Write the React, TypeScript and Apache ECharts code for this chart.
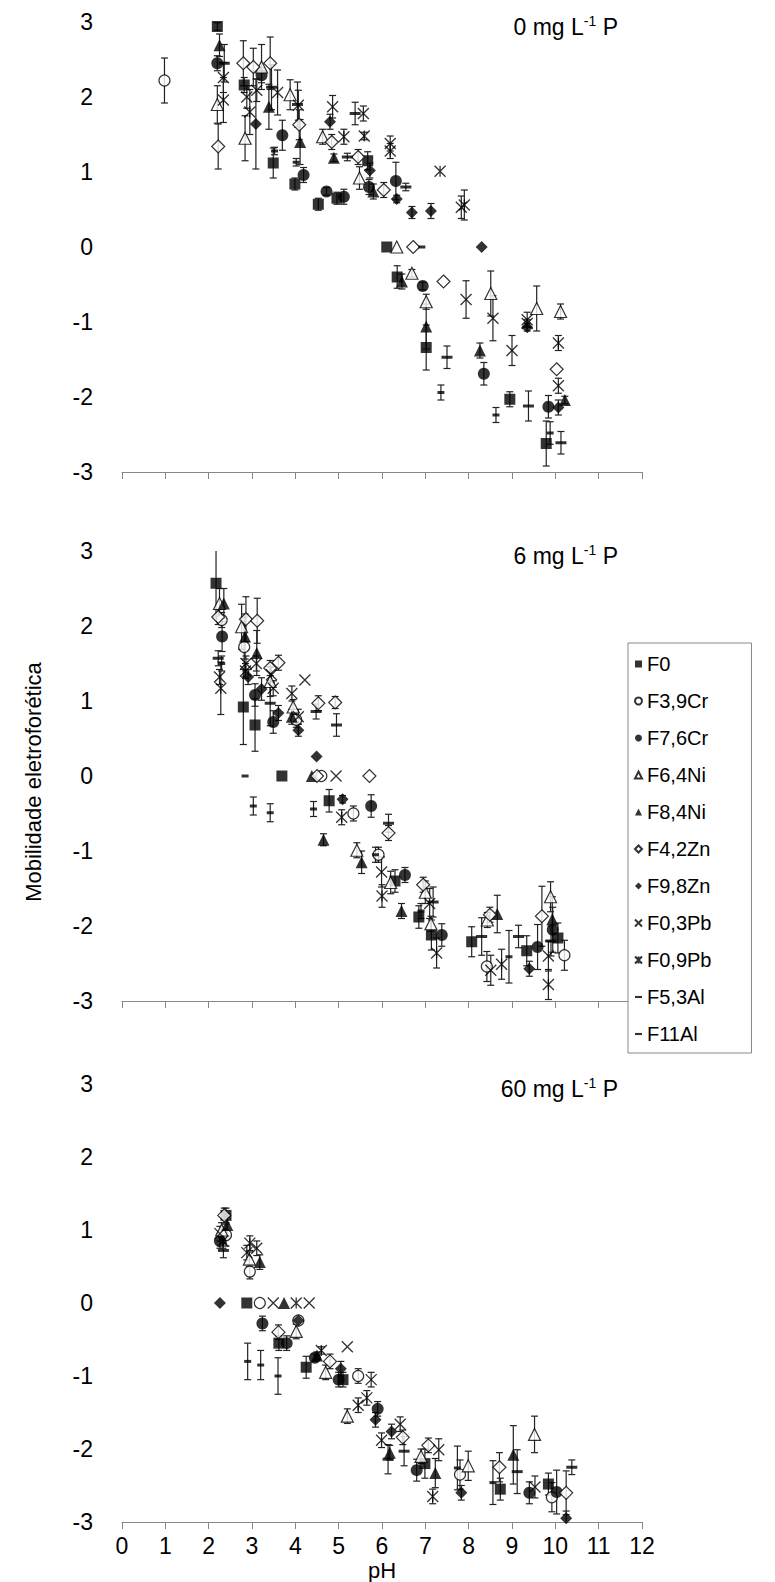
import React, { useEffect, useRef } from "react";
import * as echarts from "echarts";

// ---- series names (legend order) ----
const NAMES = ["F0", "F3,9Cr", "F7,6Cr", "F6,4Ni", "F8,4Ni", "F4,2Zn", "F9,8Zn", "F0,3Pb", "F0,9Pb", "F5,3Al", "F11Al"];
const TITLES = ["0", "6", "60"];
const X_TICKS = [0, 12, 1];
const Y_TICKS = [-3, 3, 1];

// each point: [pH, mobility, error]
// ---- panel 1: 0 mg L-1 P ----
const p1_F0 = [[2.2, 2.94, 0.05], [2.82, 2.16, 0.1], [3.49, 1.12, 0.2], [3.99, 0.84, 0.08], [4.53, 0.57, 0.08], [4.96, 0.65, 0.08], [5.67, 1.15, 0.12], [6.11, 0, 0], [6.35, -0.4, 0.15], [7.02, -1.34, 0.3], [8.95, -2.03, 0.1], [9.79, -2.62, 0.3]];
const p1_F39Cr = [[0.98, 2.22, 0.3]];
const p1_F76Cr = [[2.2, 2.45, 0.1], [3.22, 2.29, 0.1], [3.7, 1.49, 0.2], [4.19, 0.96, 0.1], [4.72, 0.74, 0.05], [5.12, 0.67, 0.1], [5.7, 0.8, 0.1], [6.32, 0.88, 0.25], [6.94, -0.52, 0.05], [8.35, -1.69, 0.15], [9.84, -2.13, 0.15]];
const p1_F64Ni = [[2.2, 1.9, 0.25], [2.84, 1.45, 0.3], [3.22, 2.4, 0.3], [3.88, 2.03, 0.2], [4.63, 1.47, 0.1], [5.48, 0.92, 0.15], [6.34, 0, 0], [6.69, -0.35, 0.05], [7.02, -0.73, 0.1], [8.51, -0.62, 0.3], [9.57, -0.82, 0.3], [10.12, -0.86, 0.1]];
const p1_F84Ni = [[2.25, 2.69, 0.15], [3.39, 1.87, 0.3], [4.11, 1.4, 0.3], [4.89, 1.19, 0.05], [5.8, 0.74, 0.1], [6.46, -0.46, 0.1], [7.02, -1.06, 0.3], [8.26, -1.38, 0.1], [10.22, -2.04, 0.05]];
const p1_F42Zn = [[2.22, 1.34, 0.3], [2.8, 2.45, 0.3], [3.03, 2.4, 0.25], [3.42, 2.45, 0.35], [4.09, 1.63, 0.2], [4.84, 1.4, 0.1], [5.45, 1.2, 0.1], [6.04, 0.76, 0.1], [6.72, 0, 0], [7.42, -0.46, 0], [10.03, -1.63, 0]];
const p1_F98Zn = [[3.09, 1.64, 0.6], [4.8, 1.67, 0.1], [5.72, 1.02, 0.1], [6.34, 0.64, 0.05], [6.69, 0.46, 0.08], [7.13, 0.48, 0.1], [8.3, 0, 0], [9.35, -1.07, 0.05], [10.07, -2.14, 0.1]];
const p1_F03Pb = [[2.34, 2.26, 0.2], [2.88, 2.0, 0.15], [3.11, 2.09, 0.15], [4.07, 1.89, 0.2], [4.86, 1.87, 0.15], [5.57, 1.78, 0.1], [6.19, 1.38, 0.1], [7.83, 0.53, 0.15], [7.94, -0.7, 0.25], [8.56, -0.95, 0.3], [9.0, -1.38, 0.2], [9.35, -0.97, 0.1], [10.07, -1.85, 0.1]];
const p1_F09Pb = [[2.34, 1.96, 0.3], [2.95, 1.8, 0.3], [3.59, 2.06, 0.3], [5.12, 1.47, 0.1], [5.59, 1.48, 0.05], [6.19, 1.28, 0.1], [7.34, 1.01, 0], [7.9, 0.56, 0.2], [9.35, -1.02, 0.05], [10.07, -1.28, 0.1]];
const p1_F53Al = [[3.52, 1.28, 0.05], [4.02, 1.13, 0.05], [6.92, 0, 0], [7.36, -1.94, 0.1], [8.63, -2.24, 0.1], [9.88, -2.48, 0.15]];
const p1_F11Al = [[2.36, 2.45, 0.25], [3.45, 2.13, 0.3], [4.05, 1.9, 0.3], [5.2, 1.2, 0.05], [5.38, 1.78, 0.15], [6.55, 0.8, 0.05], [7.5, -1.47, 0.15], [9.38, -2.12, 0.2], [10.13, -2.61, 0.15]];

// ---- panel 2: 6 mg L-1 P ----
const p2_F0 = [[2.17, 2.57, 0.45], [2.8, 0.92, 0.5], [3.07, 0.68, 0.35], [3.69, 0, 0], [4.78, -0.33, 0.15], [6.3, -1.4, 0.15], [6.85, -1.88, 0.15], [7.14, -2.12, 0.2], [8.07, -2.21, 0.2], [9.34, -2.33, 0.2], [10.06, -2.16, 0.2]];
const p2_F39Cr = [[2.3, 2.08, 0.1], [2.82, 1.72, 0.4], [4.02, 0.75, 0.1], [4.6, 0, 0], [5.34, -0.5, 0.1], [5.92, -1.05, 0.1], [8.42, -2.54, 0.2], [10.21, -2.39, 0.2]];
const p2_F76Cr = [[2.31, 1.86, 0.2], [3.07, 1.08, 0.15], [3.49, 0.72, 0.15], [5.75, -0.4, 0.15], [6.53, -1.32, 0.1], [7.38, -2.12, 0.15], [9.59, -2.28, 0.3], [9.94, -2.05, 0.3]];
const p2_F64Ni = [[2.25, 2.3, 0.2], [2.76, 1.99, 0.3], [3.42, 1.26, 0.2], [3.95, 0.92, 0.1], [5.42, -0.99, 0.1], [6.2, -1.42, 0.15], [7.0, -1.55, 0.15], [7.13, -1.97, 0.1], [8.43, -1.92, 0.1], [9.89, -1.61, 0.2]];
const p2_F84Ni = [[2.35, 2.3, 0.2], [2.84, 1.86, 0.3], [3.11, 1.64, 0.3], [3.92, 0.79, 0.1], [4.38, 0, 0], [4.65, -0.85, 0.08], [5.53, -1.15, 0.15], [6.45, -1.8, 0.1], [8.66, -1.84, 0.25], [9.93, -1.91, 0.3]];
const p2_F42Zn = [[2.22, 2.12, 0.1], [2.86, 2.09, 0.3], [3.12, 2.07, 0.3], [3.61, 1.51, 0.1], [3.42, 1.44, 0.1], [4.53, 0.97, 0.1], [4.92, 0.98, 0.08], [4.5, 0, 0], [5.71, 0, 0], [6.15, -0.76, 0.1], [6.95, -1.45, 0.1], [8.49, -1.85, 0.1], [9.69, -1.87, 0.4]];
const p2_F98Zn = [[2.91, 1.32, 0.1], [3.22, 1.16, 0.15], [3.61, 0.84, 0.1], [4.07, 0.61, 0.08], [4.49, 0.26, 0], [5.09, -0.31, 0.05], [9.4, -2.57, 0.1]];
const p2_F03Pb = [[2.25, 1.32, 0.1], [2.86, 1.5, 0.1], [3.1, 1.5, 0.1], [3.45, 1.35, 0.1], [3.49, 1.17, 0.1], [3.92, 1.1, 0.1], [4.07, 0.79, 0.1], [4.22, 1.28, 0], [4.94, 0, 0], [5.99, -1.28, 0.2], [7.1, -1.7, 0.2], [8.51, -2.59, 0.2], [9.84, -2.4, 0.2]];
const p2_F09Pb = [[2.28, 1.17, 0.35], [2.85, 1.4, 0.1], [5.07, -0.55, 0.1], [6.0, -1.6, 0.15], [7.26, -2.36, 0.2], [8.76, -2.51, 0.2], [9.84, -2.78, 0.2]];
const p2_F53Al = [[2.3, 1.5, 0.1], [2.84, 0, 0], [3.03, -0.4, 0.12], [3.42, -0.49, 0.12], [4.42, -0.44, 0.1], [5.85, -1.05, 0.1], [6.9, -1.8, 0.1], [8.93, -2.41, 0.35]];
const p2_F11Al = [[2.22, 1.57, 0.1], [3.42, 0.97, 0.3], [4.48, 0.86, 0.1], [4.95, 0.68, 0.15], [6.15, -0.63, 0.12], [7.18, -1.68, 0.2], [8.3, -2.14, 0.25], [9.15, -2.14, 0.15], [9.9, -2.2, 0.2]];

// ---- panel 3: 60 mg L-1 P ----
const p3_F0 = [[2.4, 1.2, 0.1], [2.88, 0, 0], [3.62, -0.55, 0.1], [4.25, -0.88, 0.15], [5.1, -1.05, 0.1], [6.99, -2.2, 0.2], [8.73, -2.55, 0.15], [9.84, -2.48, 0.15]];
const p3_F39Cr = [[2.4, 0.93, 0.15], [2.95, 0.43, 0.1], [3.18, 0, 0], [4.07, -0.24, 0], [5.45, -1.0, 0.1], [7.8, -2.35, 0.2], [9.92, -2.66, 0.2]];
const p3_F76Cr = [[2.26, 0.85, 0.1], [3.24, -0.28, 0.1], [3.8, -0.55, 0.1], [4.45, -0.75, 0.05], [5.0, -1.05, 0.1], [5.9, -1.45, 0.1], [6.8, -2.29, 0.15], [9.4, -2.6, 0.15], [10.03, -2.59, 0.3]];
const p3_F64Ni = [[2.3, 1.0, 0.1], [2.94, 0.6, 0.1], [4.02, -0.39, 0.1], [4.7, -0.95, 0.1], [5.2, -1.55, 0.1], [6.9, -2.1, 0.1], [7.99, -2.23, 0.2], [9.52, -1.8, 0.25]];
const p3_F84Ni = [[2.43, 1.07, 0.15], [3.18, 0.56, 0.1], [3.74, 0, 0], [4.5, -0.72, 0.05], [6.18, -2.05, 0.1], [7.23, -2.33, 0.2], [9.03, -2.08, 0.4]];
const p3_F42Zn = [[2.36, 1.2, 0.1], [3.61, -0.4, 0.1], [4.8, -0.8, 0.1], [6.48, -1.84, 0.1], [7.07, -1.95, 0.1], [8.71, -2.25, 0.2], [10.25, -2.6, 0.3]];
const p3_F98Zn = [[2.26, 0, 0], [4.07, -0.24, 0], [5.05, -0.9, 0.1], [5.85, -1.6, 0.1], [6.22, -1.76, 0.1], [7.83, -2.6, 0.1], [10.25, -2.95, 0.1]];
const p3_F03Pb = [[2.26, 0.95, 0.1], [2.88, 0.69, 0.1], [3.11, 0.75, 0.1], [3.49, 0, 0], [4.32, 0, 0], [5.2, -0.6, 0], [5.75, -1.05, 0.1], [5.99, -1.88, 0.1], [6.42, -1.66, 0.1], [7.31, -2.01, 0.15], [9.53, -2.52, 0.15]];
const p3_F09Pb = [[2.33, 0.85, 0.1], [2.95, 0.82, 0.1], [4.02, 0, 0], [4.6, -0.65, 0.05], [5.45, -1.4, 0.1], [5.65, -1.3, 0.1], [7.17, -2.65, 0.1]];
const p3_F53Al = [[2.9, -0.8, 0.25], [3.2, -0.85, 0.2], [3.6, -1.0, 0.25], [7.74, -2.26, 0.3], [8.56, -2.46, 0.3]];
const p3_F11Al = [[2.34, 0.72, 0.1], [6.14, -2.14, 0.2], [6.51, -2.03, 0.2], [9.12, -2.31, 0.3], [10.38, -2.25, 0.1]];

const PANEL1 = [p1_F0, p1_F39Cr, p1_F76Cr, p1_F64Ni, p1_F84Ni, p1_F42Zn, p1_F98Zn, p1_F03Pb, p1_F09Pb, p1_F53Al, p1_F11Al];
const PANEL2 = [p2_F0, p2_F39Cr, p2_F76Cr, p2_F64Ni, p2_F84Ni, p2_F42Zn, p2_F98Zn, p2_F03Pb, p2_F09Pb, p2_F53Al, p2_F11Al];
const PANEL3 = [p3_F0, p3_F39Cr, p3_F76Cr, p3_F64Ni, p3_F84Ni, p3_F42Zn, p3_F98Zn, p3_F03Pb, p3_F09Pb, p3_F53Al, p3_F11Al];

const FONT = "'Liberation Sans', Arial, sans-serif";
const NARROW = "'Liberation Sans Narrow', 'Liberation Sans', Arial, sans-serif";
const BLACK = "#000";
const OPEN = { color: "#fff", borderColor: "#000", borderWidth: 1.2 };
const FILLED = { color: "#000", borderWidth: 0 };
const STROKED = { color: "rgba(0,0,0,0)", borderColor: "#000", borderWidth: 1.3 };
const MARKERS: any[] = [
  { symbol: "rect", size: 11, style: FILLED },
  { symbol: "circle", size: 11, style: OPEN },
  { symbol: "circle", size: 12, style: FILLED },
  { symbol: "triangle", size: 12, style: OPEN },
  { symbol: "triangle", size: 12, style: FILLED },
  { symbol: "diamond", size: 13, style: OPEN },
  { symbol: "diamond", size: 12, style: FILLED },
  { symbol: "path://M0,0L10,10M10,0L0,10", size: 11, style: STROKED },
  { symbol: "path://M0,0L10,10M10,0L0,10M5,0L5,10", size: 11, style: STROKED },
  { symbol: "path://M0,0H10V3H0Z", size: [7, 3], style: FILLED },
  { symbol: "path://M0,0H10V3H0Z", size: [11, 3], style: FILLED },
];

const GRIDS = [
  { left: 122, top: 22, width: 520, height: 450 },
  { left: 122, top: 551, width: 520, height: 450 },
  { left: 122, top: 1084, width: 520, height: 450 },
];

function renderErr(params: any, api: any) {
  const x = api.value(0), y = api.value(1), e = api.value(2);
  if (!e) return null;
  const t = api.coord([x, y + e]);
  const b = api.coord([x, y - e]);
  const c = 3.5;
  const style = { stroke: "#222", lineWidth: 1.2 };
  return {
    type: "group",
    children: [
      { type: "line", shape: { x1: t[0], y1: t[1], x2: b[0], y2: b[1] }, style },
      { type: "line", shape: { x1: t[0] - c, y1: t[1], x2: t[0] + c, y2: t[1] }, style },
      { type: "line", shape: { x1: b[0] - c, y1: b[1], x2: b[0] + c, y2: b[1] }, style },
    ],
  };
}

export default function App() {
  const ref = useRef<HTMLDivElement>(null);
  useEffect(() => {
    document.body.style.margin = "0";
    const chart = echarts.init(ref.current!, null, { renderer: "svg" });
    const panels = [PANEL1, PANEL2, PANEL3];
    const series: any[] = [];
    panels.forEach((pd, gi) => {
      series.push({
        type: "custom",
        name: "err" + gi,
        xAxisIndex: gi,
        yAxisIndex: gi,
        renderItem: renderErr,
        encode: { x: 0, y: 1 },
        data: pd.reduce((a: any[], arr: any[]) => a.concat(arr), []),
        z: 1,
        clip: true,
        silent: true,
      });
      pd.forEach((arr, si) => {
        const m = MARKERS[si];
        series.push({
          type: "scatter",
          name: NAMES[si],
          xAxisIndex: gi,
          yAxisIndex: gi,
          data: arr.map((d) => [d[0], d[1]]),
          symbol: m.symbol,
          symbolSize: m.size,
          itemStyle: m.style,
          z: 2,
        });
      });
    });
    const option: any = {
      animation: false,
      backgroundColor: "#fff",
      textStyle: { fontFamily: FONT },
      grid: GRIDS,
      title: GRIDS.map((g, i) => ({
        text: "{a|" + TITLES[i] + " mg L}{s|-1}{a| P}",
        right: 152,
        top: g.top - 13,
        textStyle: {
          fontWeight: "normal",
          rich: {
            a: { fontSize: 23, fontFamily: FONT, fontWeight: "normal", color: BLACK, lineHeight: 26 },
            s: { fontSize: 14, fontFamily: FONT, fontWeight: "normal", color: BLACK, lineHeight: 15, verticalAlign: "top" },
          },
        },
      })),
      xAxis: GRIDS.map((g, i) => ({
        type: "value",
        gridIndex: i,
        min: X_TICKS[0],
        max: X_TICKS[1],
        interval: X_TICKS[2],
        axisLine: { show: true, onZero: false, lineStyle: { color: "#888", width: 1 } },
        axisTick: { show: true, length: 7, lineStyle: { color: "#888" } },
        splitLine: { show: false },
        axisLabel: { show: i === 2, fontSize: 23, color: BLACK, fontFamily: NARROW, margin: 12 },
        name: i === 2 ? "pH" : "",
        nameLocation: "middle",
        nameGap: 37,
        nameTextStyle: { fontSize: 22, color: BLACK, fontFamily: FONT },
      })),
      yAxis: GRIDS.map((g, i) => ({
        type: "value",
        gridIndex: i,
        min: Y_TICKS[0],
        max: Y_TICKS[1],
        interval: Y_TICKS[2],
        axisLine: { show: false },
        axisTick: { show: false },
        splitLine: { show: false },
        axisLabel: { fontSize: 23, color: BLACK, fontFamily: NARROW, margin: 29 },
      })),
      legend: {
        orient: "vertical",
        left: 628,
        top: 643,
        itemGap: 17,
        itemWidth: 7,
        itemHeight: 7,
        padding: [11, 40, 9, 6],
        borderColor: "#888",
        borderWidth: 1,
        backgroundColor: "#fff",
        textStyle: { fontSize: 20, fontFamily: FONT, color: BLACK, lineHeight: 20 },
        data: NAMES,
      },
      graphic: [
        {
          type: "text",
          x: 33,
          y: 782,
          rotation: Math.PI / 2,
          style: {
            text: "Mobilidade eletroforética",
            fontSize: 22,
            fontFamily: FONT,
            fill: BLACK,
            textAlign: "center",
            textVerticalAlign: "middle",
          },
        },
      ],
      series,
    };
    chart.setOption(option);
    return () => chart.dispose();
  }, []);
  return <div ref={ref} style={{ width: 775, height: 1582 }} />;
}
